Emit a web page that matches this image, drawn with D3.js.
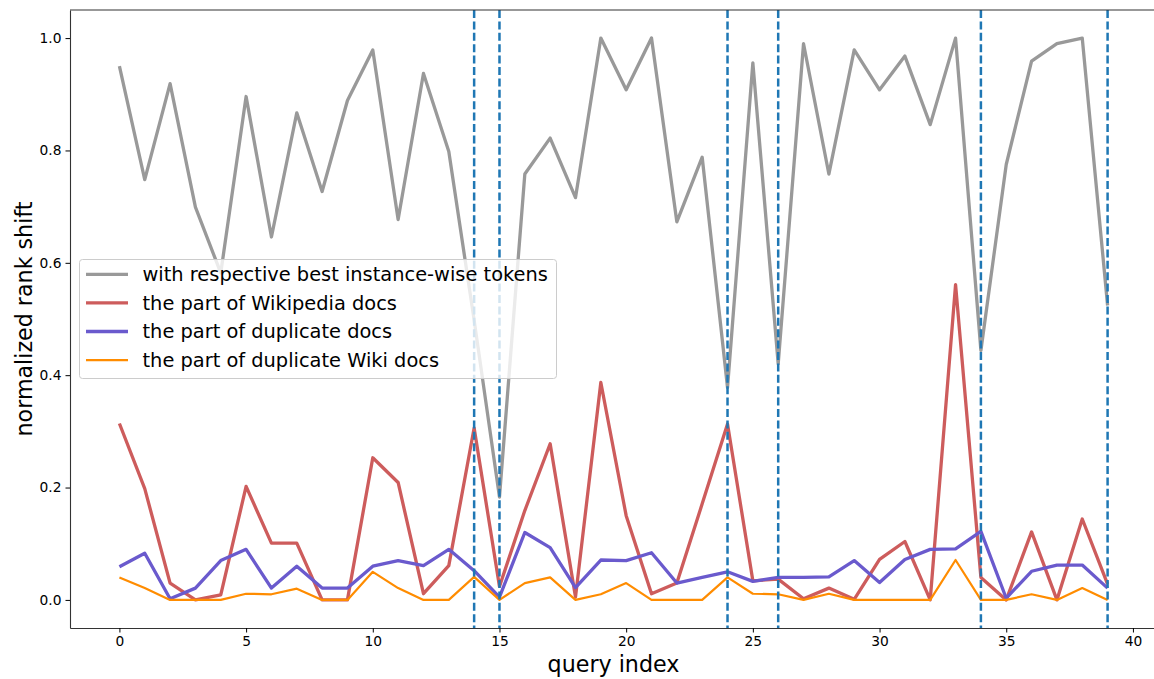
<!DOCTYPE html>
<html>
<head>
<meta charset="utf-8">
<script src="https://cdn.jsdelivr.net/npm/d3@7"></script>
<style>
  body { margin: 0; background: #fff; }
  svg { display: block; font-family: "DejaVu Sans", sans-serif; }
</style>
</head>
<body>
<svg id="chart" width="1154" height="679"></svg>
<script>
// values, one per query index 0..39
const bestTokens = [0.950, 0.748, 0.919, 0.699, 0.582, 0.896, 0.646, 0.867, 0.727, 0.889,
                    0.979, 0.677, 0.937, 0.798, 0.498, 0.183, 0.758, 0.822, 0.716, 1.000,
                    0.908, 1.000, 0.673, 0.788, 0.378, 0.956, 0.420, 0.990, 0.758, 0.979,
                    0.908, 0.968, 0.846, 1.000, 0.444, 0.775, 0.959, 0.990, 1.000, 0.524];
const wikiDocs = [0.314, 0.198, 0.030, 0.000, 0.009, 0.202, 0.101, 0.101, 0.000, 0.000,
                  0.253, 0.209, 0.011, 0.061, 0.306, 0.024, 0.159, 0.278, 0.005, 0.387,
                  0.150, 0.011, 0.030, 0.171, 0.313, 0.034, 0.037, 0.002, 0.021, 0.001,
                  0.072, 0.104, 0.000, 0.561, 0.040, 0.000, 0.121, 0.000, 0.144, 0.028];
const dupDocs = [0.059, 0.083, 0.002, 0.021, 0.070, 0.090, 0.021, 0.060, 0.021, 0.021,
                 0.060, 0.070, 0.061, 0.090, 0.052, 0.005, 0.120, 0.093, 0.022, 0.071,
                 0.070, 0.084, 0.030, 0.040, 0.050, 0.033, 0.040, 0.040, 0.041, 0.070,
                 0.031, 0.072, 0.090, 0.091, 0.122, 0.003, 0.051, 0.062, 0.062, 0.021];
const dupWikiDocs = [0.040, 0.021, 0.000, 0.000, 0.000, 0.011, 0.010, 0.020, 0.000, 0.000,
                     0.050, 0.021, 0.000, 0.000, 0.041, 0.000, 0.030, 0.040, 0.000, 0.010,
                     0.030, 0.000, 0.000, 0.000, 0.040, 0.011, 0.010, 0.000, 0.011, 0.000,
                     0.000, 0.000, 0.000, 0.071, 0.000, 0.000, 0.010, 0.000, 0.021, 0.000];
const markedQueries = [14, 15, 24, 26, 34, 39];
const seriesLabels = ["with respective best instance-wise tokens", "the part of Wikipedia docs",
                      "the part of duplicate docs", "the part of duplicate Wiki docs"];
const xTicks = [0, 5, 10, 15, 20, 25, 30, 35, 40];
const yTicks = [0.0, 0.2, 0.4, 0.6, 0.8, 1.0];

const series = [
    { label: seriesLabels[0], values: bestTokens, color: "#999999", width: 3.3 },
    { label: seriesLabels[1], values: wikiDocs, color: "#cd5c5c", width: 3.3 },
    { label: seriesLabels[2], values: dupDocs, color: "#6a5acd", width: 3.3 },
    { label: seriesLabels[3], values: dupWikiDocs, color: "#ff8c00", width: 2.2 }
];

const svg = d3.select("#chart");
const m = { left: 70, top: 10, bottom: 628, right: 1157 };

// plot is cropped on the right in the original, so the axes run past the edge
const x = d3.scaleLinear().domain([-1.95, 40.95]).range([m.left, m.right]);
const y = d3.scaleLinear().domain([-0.05, 1.05]).range([m.bottom, m.top]);

svg.append("defs").append("clipPath").attr("id", "clip")
    .append("rect").attr("x", m.left).attr("y", m.top)
    .attr("width", m.right - m.left).attr("height", m.bottom - m.top);

const plot = svg.append("g").attr("clip-path", "url(#clip)");

const line = d3.line().x((d, i) => x(i)).y(d => y(d));

series.forEach(s => {
    plot.append("path")
        .datum(s.values)
        .attr("d", line)
        .attr("fill", "none")
        .attr("stroke", s.color)
        .attr("stroke-width", s.width)
        .attr("stroke-linejoin", "round");
});

// dashed markers
markedQueries.forEach(q => {
    plot.append("line")
        .attr("x1", x(q)).attr("x2", x(q))
        .attr("y1", m.top).attr("y2", m.bottom)
        .attr("stroke", "#1f77b4")
        .attr("stroke-width", 2.5)
        .attr("stroke-dasharray", "8,3.4");
});

// axes
const xAxis = svg.append("g")
    .attr("transform", `translate(0,${m.bottom})`)
    .call(d3.axisBottom(x).tickValues(xTicks).tickFormat(d3.format("d")).tickSize(4.5).tickSizeOuter(0).tickPadding(4));
const yAxis = svg.append("g")
    .attr("transform", `translate(${m.left},0)`)
    .call(d3.axisLeft(y).tickValues(yTicks).tickFormat(d3.format(".1f")).tickSize(4.5).tickSizeOuter(0).tickPadding(4));

[xAxis, yAxis].forEach(a => {
    a.selectAll("text").attr("font-size", 13.8).attr("fill", "#000").attr("font-family", "DejaVu Sans");
    a.selectAll("line").attr("stroke", "#000").attr("stroke-width", 1);
    a.select(".domain").attr("stroke", "#333").attr("stroke-width", 1.1);
});

// top and right spines
svg.append("line").attr("x1", m.left).attr("x2", m.right).attr("y1", m.top).attr("y2", m.top)
    .attr("stroke", "#333").attr("stroke-width", 1.1);
svg.append("line").attr("x1", m.right).attr("x2", m.right).attr("y1", m.top).attr("y2", m.bottom)
    .attr("stroke", "#333").attr("stroke-width", 1.1);

// axis titles
svg.append("text")
    .attr("x", (m.left + m.right) / 2).attr("y", 672)
    .attr("text-anchor", "middle")
    .attr("font-size", 22.2)
    .text("query index");
svg.append("text")
    .attr("transform", `translate(32,${(m.top + m.bottom) / 2}) rotate(-90)`)
    .attr("text-anchor", "middle")
    .attr("font-size", 22.2)
    .text("normalized rank shift");

// legend
const legend = svg.append("g");
legend.append("rect")
    .attr("x", 79.5).attr("y", 259.5)
    .attr("width", 477).attr("height", 119)
    .attr("rx", 3)
    .attr("fill", "#fff").attr("fill-opacity", 0.8)
    .attr("stroke", "#ccc").attr("stroke-width", 1);

series.forEach((s, i) => {
    const cy = 274.3 + i * 28.6;
    legend.append("line")
        .attr("x1", 86).attr("x2", 128)
        .attr("y1", cy).attr("y2", cy)
        .attr("stroke", s.color).attr("stroke-width", s.width);
    legend.append("text")
        .attr("x", 142.5).attr("y", cy)
        .attr("dy", "0.36em")
        .attr("font-size", 19.4)
        .text(s.label);
});
</script>
</body>
</html>
